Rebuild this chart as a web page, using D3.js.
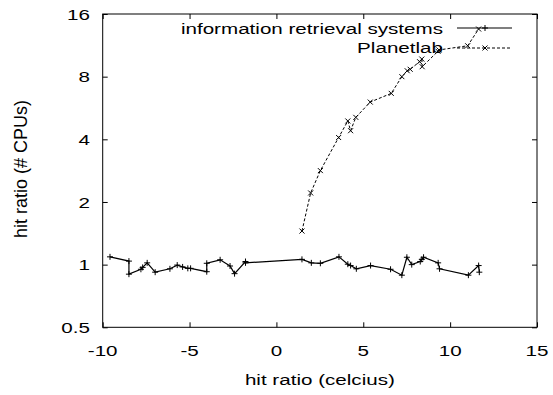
<!DOCTYPE html>
<html><head><meta charset="utf-8">
<script src="https://cdn.jsdelivr.net/npm/d3@7"></script>
<style>body{margin:0;background:#fff}text{font-family:"Liberation Sans",Arial,sans-serif;fill:#000}</style>
</head><body><svg id="c" width="553" height="395"></svg>
<script>
const irX = [-9.58,-8.49,-8.49,-7.80,-7.70,-7.44,-6.98,-6.13,-5.71,-5.40,-5.10,-4.94,-4.01,-4.01,-3.24,-2.67,-2.41,-1.78,-1.78,1.47,2.01,2.53,3.60,4.11,4.27,4.60,5.42,6.57,7.22,7.51,7.79,8.28,8.37,8.47,9.31,9.39,11.05,11.64,11.68];
const irY = [1.09,1.04,0.90,0.95,0.97,1.02,0.92,0.955,0.995,0.975,0.96,0.96,0.925,1.015,1.055,0.985,0.905,1.035,1.02,1.06,1.02,1.015,1.09,1.005,0.99,0.955,0.99,0.95,0.89,1.085,1.0,1.035,1.06,1.085,1.02,0.955,0.89,0.99,0.92];
const plX = [1.47,1.97,2.53,3.58,4.11,4.27,4.57,5.40,6.61,7.22,7.53,7.70,8.24,8.37,8.39,9.30,9.36,11.01,11.64];
const plY = [1.45,2.21,2.83,4.08,4.90,4.40,5.10,6.04,6.65,8.0,8.54,8.68,9.44,9.72,8.93,10.6,10.75,11.26,13.55];
const xTicks = [-10,-5,0,5,10,15];
const yTicks = [0.5,1,2,4,8,16];
const seriesNames = ["information retrieval systems","Planetlab"];

const svg = d3.select("#c");
const L=102.7, R=537, T=14, B=327.3;
const x = d3.scaleLinear().domain([-10,15]).range([L,R]);
const y = d3.scaleLog().base(2).domain([0.5,16]).range([B,T]);
const g = svg.append("g");
const FS = 15.5, SX = 1.33;

function txt(parent, px, py, s, anchor, sx, fs, rot){
  const gg = parent.append("g").attr("transform",`translate(${px},${py}) scale(${sx},1)` + (rot?` rotate(${rot})`:""));
  gg.append("text").attr("text-anchor",anchor).style("font-size",fs+"px").text(s);
  return gg;
}

// frame
g.append("rect").attr("x",L).attr("y",T).attr("width",R-L).attr("height",B-T).attr("fill","none").attr("stroke","#000").attr("stroke-width",1);

// tick marks (all four sides)
const tk=5;
[[d3.axisBottom(x),B,"x"],[d3.axisTop(x),T,"x"],[d3.axisLeft(y),L,"y"],[d3.axisRight(y),R,"y"]].forEach(([a,pos,k])=>{
  a.tickValues(k==="x"?xTicks:yTicks).tickSize(-tk).tickFormat("");
  const ag = g.append("g").attr("transform",k==="x"?`translate(0,${pos})`:`translate(${pos},0)`).call(a);
  ag.select(".domain").remove();
  ag.selectAll("line").attr("stroke","#000");
});
// tick labels
xTicks.forEach(v=>txt(svg, x(v), 356, String(v), "middle", SX, FS));
yTicks.forEach(v=>txt(svg, 90, y(v)+5.7, String(v), "end", SX, FS));

// axis titles
txt(svg, (L+R)/2, 385, "hit ratio (celcius)", "middle", SX, FS);
txt(svg, 26.5, 169, "hit ratio (# CPUs)", "middle", 1.0, 18, -90);

const irData = irX.map((v,i)=>[v,irY[i]]);
const plData = plX.map((v,i)=>[v,plY[i]]);
const line = d3.line().x(d=>x(d[0])).y(d=>y(d[1]));
const plus = (sel,cx,cy,s)=>{sel.append("path").attr("d",`M${cx-s},${cy}H${cx+s}M${cx},${cy-s}V${cy+s}`).attr("stroke","#000").attr("stroke-width",1).attr("fill","none");};
const cross = (sel,cx,cy,s)=>{sel.append("path").attr("d",`M${cx-s},${cy-s}L${cx+s},${cy+s}M${cx-s},${cy+s}L${cx+s},${cy-s}`).attr("stroke","#000").attr("stroke-width",1).attr("fill","none");};

g.append("path").datum(irData).attr("d",line).attr("fill","none").attr("stroke","#000").attr("stroke-width",1.2);
irData.forEach(d=>plus(g,x(d[0]),y(d[1]),3));
g.append("path").datum(plData).attr("d",line).attr("fill","none").attr("stroke","#000").attr("stroke-width",1).attr("stroke-dasharray","3,2");
plData.forEach(d=>cross(g,x(d[0]),y(d[1]),2.5));

// legend
const lg = svg.append("g");
txt(lg, 443, 34, seriesNames[0], "end", SX, FS);
lg.append("line").attr("x1",457).attr("x2",512).attr("y1",28).attr("y2",28).attr("stroke","#000").attr("stroke-width",1.2);
plus(lg,485,28,3);
txt(lg, 443, 53, seriesNames[1], "end", SX, FS);
lg.append("line").attr("x1",457).attr("x2",512).attr("y1",48).attr("y2",48).attr("stroke","#000").attr("stroke-width",1).attr("stroke-dasharray","3,2");
cross(lg,485,48,2.5);
</script></body></html>
